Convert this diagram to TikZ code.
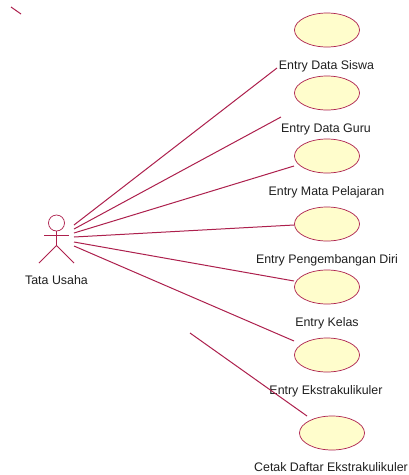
\documentclass[tikz,border=0pt]{standalone}
\usepackage{fontspec}
\setmainfont{Liberation Sans}
\usetikzlibrary{shapes.geometric}
\definecolor{ucline}{RGB}{173,32,77}
\definecolor{ucfill}{RGB}{255,253,204}
\tikzset{
  x=1pt,y=-1pt,
  uc/.style={draw=ucline,fill=ucfill,ellipse,minimum width=65pt,minimum height=34pt,inner sep=0pt,line width=0.7pt},
  lbl/.style={font=\fontsize{12.4}{14}\selectfont,text=black!88,inner sep=0pt,anchor=base},
  assoc/.style={draw=ucline,line width=1pt},
  act/.style={draw=ucline,line width=1pt}
}
\begin{document}
\begin{tikzpicture}
\useasboundingbox[fill=white] (0,0) rectangle (409,475);
\node[uc] (u1) at (327,30) {};
\node[uc] (u2) at (327,93) {};
\node[uc] (u3) at (327,156) {};
\node[uc] (u4) at (327,224) {};
\node[uc] (u5) at (327,287) {};
\node[uc] (u6) at (327,355) {};
\node[uc] (u7) at (332,433) {};
\node[lbl] (l1) at (326.5,69) {Entry Data Siswa};
\node[lbl] (l2) at (326,132) {Entry Data Guru};
\node[lbl] (l3) at (326.5,195) {Entry Mata Pelajaran};
\node[lbl] (l4) at (327,263) {Entry Pengembangan Diri};
\node[lbl] (l5) at (327,326) {Entry Kelas};
\node[lbl] (l6) at (326,394) {Entry Ekstrakulikuler};
\node[lbl] (l7) at (331,471) {Cetak Daftar Ekstrakulikuler};
\node[lbl] (la) at (56.5,284) {Tata Usaha};
\node[draw=ucline,circle,minimum size=16pt,inner sep=0pt,line width=0.7pt] (head) at (56.5,223) {};
\coordinate (hipc) at (56.5,245.5);
\coordinate (al) at (44,235);
\coordinate (ar) at (69,235);
\coordinate (fl) at (39,263);
\coordinate (fr) at (74,263);
\draw[act] (head.south) -- (hipc);
\draw[act] (al) -- (ar);
\draw[act] (fl) -- (hipc) -- (fr);
\coordinate (a1) at (74,225);
\coordinate (a2) at (74,229);
\coordinate (a3) at (74,233);
\coordinate (a4) at (74,237);
\coordinate (a5) at (74,242);
\coordinate (a6) at (74,246);
\coordinate (e1) at (277,68);
\coordinate (e2) at (281,117);
\coordinate (e3) at (294,166);
\coordinate (e4) at (294,225);
\coordinate (e5) at (294,281);
\coordinate (e6) at (294,341);
\coordinate (s7) at (190,333);
\coordinate (e7) at (307,416);
\coordinate (t1) at (11,7);
\coordinate (t2) at (21,14);
\draw[assoc] (a1) -- (e1);
\draw[assoc] (a2) -- (e2);
\draw[assoc] (a3) -- (e3);
\draw[assoc] (a4) -- (e4);
\draw[assoc] (a5) -- (e5);
\draw[assoc] (a6) -- (e6);
\draw[assoc] (s7) -- (e7);
\draw[assoc] (t1) -- (t2);
\end{tikzpicture}
\end{document}
